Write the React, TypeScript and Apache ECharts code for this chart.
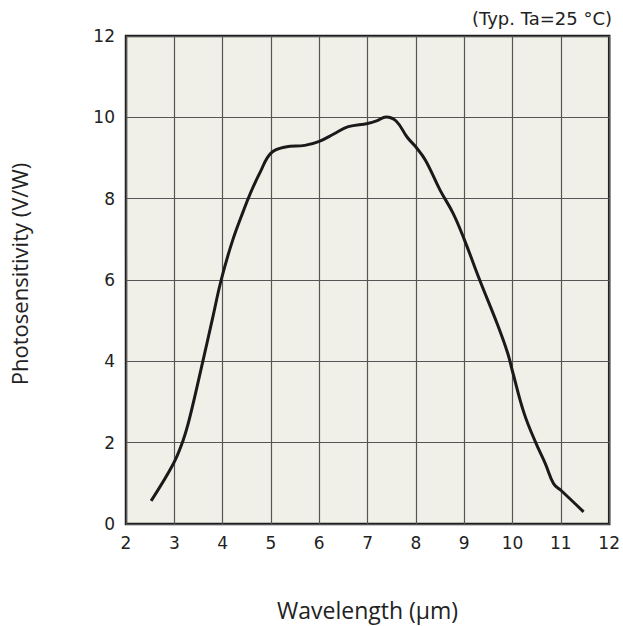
import React, { useEffect, useRef } from "react";
import * as echarts from "echarts";

const wavelength = [2.52, 2.98, 3.18, 3.32, 3.59, 3.79, 3.97, 4.2, 4.43, 4.58, 4.78, 5.0, 5.3, 5.7, 6.0, 6.3, 6.6, 7.0, 7.2, 7.38, 7.59, 7.82, 8.0, 8.2, 8.5, 8.77, 9.0, 9.32, 9.69, 9.9, 10.0, 10.24, 10.48, 10.68, 10.85, 11.0, 11.47];
const sensitivity = [0.57, 1.48, 2.05, 2.62, 4.0, 5.05, 6.0, 6.95, 7.7, 8.15, 8.66, 9.12, 9.27, 9.31, 9.41, 9.59, 9.77, 9.85, 9.92, 10.01, 9.91, 9.51, 9.27, 8.94, 8.21, 7.64, 7.0, 6.0, 4.9, 4.2, 3.75, 2.72, 2.0, 1.48, 0.99, 0.83, 0.3];

const xMin = 2, xMax = 12, xStep = 1;
const yMin = 0, yMax = 12, yStep = 2;

export default function App() {
  const ref = useRef<HTMLDivElement>(null);
  useEffect(() => {
    if (!ref.current) return;
    const chart = echarts.init(ref.current, null, { renderer: "svg" });
    const tickFont = { fontFamily: "DejaVu Sans", fontSize: 17, color: "#222" };
    chart.setOption({
      animation: false,
      backgroundColor: "#ffffff",
      title: {
        text: "(Typ. Ta=25 °C)",
        right: 6,
        top: 4,
        textStyle: { fontFamily: "DejaVu Sans", fontSize: 18, fontWeight: "normal", color: "#222" },
      },
      grid: {
        left: 118,
        right: 12,
        top: 36,
        bottom: 99,
        show: true,
        backgroundColor: "#f1f0e8",
        borderColor: "#1e1e1e",
        borderWidth: 2.5,
        containLabel: false,
      },
      xAxis: {
        type: "value",
        min: xMin,
        max: xMax,
        interval: xStep,
        name: "Wavelength (µm)",
        nameLocation: "middle",
        nameGap: 74,
        nameTextStyle: { fontFamily: "Open Sans", fontSize: 23, color: "#222" },
        axisLine: { show: false },
        axisTick: { show: false },
        axisLabel: { ...tickFont, margin: 10 },
        splitLine: { show: true, lineStyle: { color: "#555", width: 1.2 } },
      },
      yAxis: {
        type: "value",
        min: yMin,
        max: yMax,
        interval: yStep,
        name: "Photosensitivity (V/W)",
        nameLocation: "middle",
        nameGap: 96,
        nameRotate: 90,
        nameTextStyle: { fontFamily: "Open Sans", fontSize: 22, color: "#222", padding: [0, 0, 0, 12] },
        axisLine: { show: false },
        axisTick: { show: false },
        axisLabel: { ...tickFont, margin: 11 },
        splitLine: { show: true, lineStyle: { color: "#555", width: 1.2 } },
      },
      series: [
        {
          type: "line",
          data: wavelength.map((w, i) => [w, sensitivity[i]]),
          smooth: 0.4,
          showSymbol: false,
          lineStyle: { color: "#1a1a1a", width: 3 },
          z: 5,
        },
      ],
    });
    return () => chart.dispose();
  }, []);
  return <div ref={ref} style={{ position: "absolute", left: 0, top: 0, width: 623, height: 626 }} />;
}
